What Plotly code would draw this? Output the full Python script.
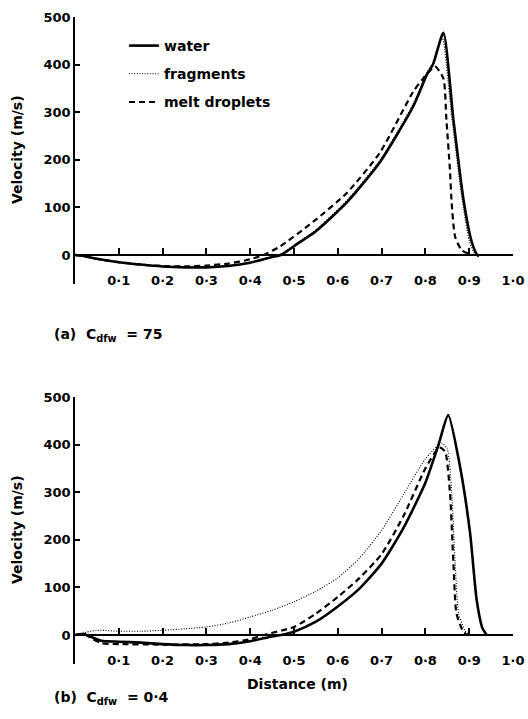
import plotly.graph_objects as go

# ---------------- data ----------------
# (a) C_dfw = 75
water_a_x = [0, 0.02, 0.05, 0.1, 0.15, 0.2, 0.25, 0.3, 0.35, 0.4, 0.45, 0.47, 0.51, 0.55, 0.62, 0.696,
             0.772, 0.803, 0.818, 0.841, 0.864, 0.887, 0.905, 0.917, 0.922]
water_a_y = [0, -2, -8, -15, -20, -24, -26, -26, -23, -16, -4, 0, 25, 50, 110, 195,
             312, 378, 402, 467, 284, 116, 30, 2, -3]

frag_a_x = [0, 0.02, 0.05, 0.1, 0.15, 0.2, 0.25, 0.3, 0.35, 0.4, 0.45, 0.465, 0.51, 0.55, 0.62, 0.696,
            0.772, 0.803, 0.818, 0.838, 0.86, 0.884, 0.9, 0.912, 0.918]
frag_a_y = [0, -2, -8, -15, -20, -24, -26, -25, -22, -15, -3, 0, 27, 53, 114, 199,
            318, 383, 405, 458, 290, 116, 30, 3, 0]

drop_a_x = [0, 0.02, 0.05, 0.1, 0.15, 0.2, 0.25, 0.3, 0.35, 0.4, 0.43, 0.468, 0.544, 0.62, 0.696,
            0.772, 0.795, 0.822, 0.841, 0.848, 0.856, 0.86, 0.868, 0.883, 0.9]
drop_a_y = [0, -2, -8, -15, -20, -23, -24, -22, -18, -9, 0, 18, 70, 130, 215,
            343, 371, 396, 371, 284, 179, 109, 38, 10, 2]

# (b) C_dfw = 0.4
water_b_x = [0, 0.02, 0.04, 0.06, 0.1, 0.15, 0.2, 0.25, 0.3, 0.35, 0.4, 0.45, 0.47, 0.5, 0.55, 0.6,
             0.65, 0.7, 0.75, 0.8, 0.83, 0.852, 0.879, 0.902, 0.917, 0.93, 0.94]
water_b_y = [0, 2, -5, -12, -14, -16, -19, -21, -21, -19, -13, -3, 0, 7, 28, 60,
             98, 150, 225, 320, 400, 462, 354, 214, 74, 15, 0]

frag_b_x = [0, 0.02, 0.05, 0.1, 0.15, 0.2, 0.25, 0.3, 0.35, 0.4, 0.45, 0.5, 0.55, 0.6, 0.65,
            0.7, 0.75, 0.8, 0.837, 0.85, 0.86, 0.868, 0.876, 0.89, 0.9]
frag_b_y = [0, 5, 10, 8, 8, 10, 13, 17, 25, 38, 52, 70, 92, 120, 162,
            220, 295, 370, 403, 390, 300, 150, 45, 10, 0]

drop_b_x = [0, 0.02, 0.04, 0.06, 0.1, 0.2, 0.3, 0.35, 0.4, 0.43, 0.5, 0.55, 0.6, 0.65, 0.7,
            0.75, 0.8, 0.832, 0.845, 0.856, 0.864, 0.871, 0.885, 0.895]
drop_b_y = [0, 2, -8, -17, -19, -20, -19, -16, -9, 0, 17, 45, 80, 120, 170,
            250, 350, 394, 385, 300, 150, 45, 10, 0]

x_ticks = [0.1, 0.2, 0.3, 0.4, 0.5, 0.6, 0.7, 0.8, 0.9, 1.0]
x_tick_text = ["0·1", "0·2", "0·3", "0·4", "0·5", "0·6", "0·7", "0·8", "0·9", "1·0"]
y_ticks = [0, 100, 200, 300, 400, 500]
y_tick_text_a = ["0", "100", "200", "300", "400", "500"]
y_tick_text_b = ["0", "100", "200", "300", "400", "500"]

# ---------------- figure ----------------
W, H = 528, 719
FONT = "DejaVu Sans"

def fx(px):
    return px / W

def fy(py):
    return 1 - py / H

fig = go.Figure()

styles = {
    "water": dict(color="black", width=2.6, dash="solid"),
    "fragments": dict(color="black", width=1.1, dash="1px,1.6px"),
    "melt droplets": dict(color="black", width=2.2, dash="6px,4px"),
}

series_a = [("water", water_a_x, water_a_y), ("fragments", frag_a_x, frag_a_y),
            ("melt droplets", drop_a_x, drop_a_y)]
series_b = [("water", water_b_x, water_b_y), ("fragments", frag_b_x, frag_b_y),
            ("melt droplets", drop_b_x, drop_b_y)]

for name, xs, ys in series_a:
    fig.add_trace(go.Scatter(x=xs, y=ys, mode="lines", name=name, legendgroup=name,
                             line=dict(shape="spline", smoothing=0.6, **styles[name]),
                             xaxis="x", yaxis="y", showlegend=True))
for name, xs, ys in series_b:
    fig.add_trace(go.Scatter(x=xs, y=ys, mode="lines", name=name, legendgroup=name,
                             line=dict(shape="spline", smoothing=0.6, **styles[name]),
                             xaxis="x2", yaxis="y2", showlegend=False))

xdom = [fx(75), fx(513)]
tickfont = dict(family=FONT, size=13, color="black", weight="bold")

common_x = dict(range=[0, 1.0], domain=xdom, tickvals=x_ticks, ticktext=x_tick_text,
                ticks="inside", ticklen=6, tickwidth=1.5, tickcolor="black",
                showline=True, linecolor="black", linewidth=1.5, showgrid=False,
                zeroline=False, tickfont=tickfont, anchor="free", automargin=False,
                ticklabelstandoff=14)
common_y = dict(range=[-60, 500], tickvals=y_ticks, ticks="inside", ticklen=5,
                tickwidth=1.5, tickcolor="black", showline=True, linecolor="black",
                linewidth=1.5, showgrid=False, zeroline=False, tickfont=tickfont,
                automargin=False)

fig.update_layout(
    width=W, height=H,
    margin=dict(l=0, r=0, t=0, b=0),
    paper_bgcolor="white", plot_bgcolor="white",
    xaxis=dict(position=fy(255), **common_x),
    yaxis=dict(domain=[fy(283.6), fy(17)], anchor="x", ticktext=y_tick_text_a, **common_y),
    xaxis2=dict(position=fy(635), **common_x),
    yaxis2=dict(domain=[fy(663.6), fy(397)], anchor="x2", ticktext=y_tick_text_b, **common_y),
    legend=dict(x=fx(124), y=fy(30), xanchor="left", yanchor="top",
                font=dict(family=FONT, size=14, color="black", weight="bold"),
                bgcolor="rgba(0,0,0,0)", traceorder="grouped", tracegroupgap=7,
                itemwidth=30),
    showlegend=True,
)

lab_font = dict(family=FONT, size=14, color="black", weight="bold")
fig.add_annotation(text="Velocity (m/s)", x=fx(17), y=fy(150), xref="paper", yref="paper",
                   xanchor="center", yanchor="middle",
                   textangle=-90, showarrow=False, font=lab_font)
fig.add_annotation(text="Velocity (m/s)", x=fx(17), y=fy(530), xref="paper", yref="paper",
                   xanchor="center", yanchor="middle",
                   textangle=-90, showarrow=False, font=lab_font)
fig.add_annotation(text="Distance (m)", x=fx(297), y=fy(694), xref="paper", yref="paper",
                   xanchor="center", showarrow=False, font=lab_font)
fig.add_annotation(text="(a)  C<sub>dfw</sub>  = 75", x=fx(52), y=fy(335), xref="paper",
                   yref="paper", xanchor="left", showarrow=False, font=lab_font)
fig.add_annotation(text="(b)  C<sub>dfw</sub>  = 0·4", x=fx(52), y=fy(709), xref="paper",
                   yref="paper", xanchor="left", showarrow=False, font=lab_font)

fig.write_html("out.html")
